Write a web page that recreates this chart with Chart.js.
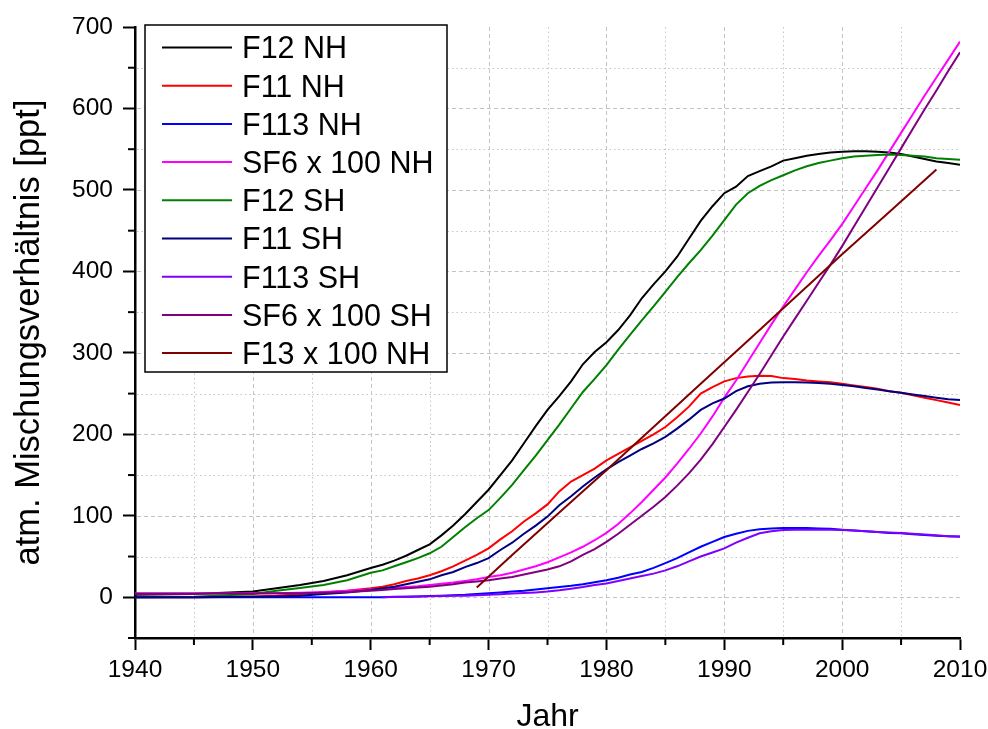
<!DOCTYPE html>
<html lang="de">
<head>
<meta charset="UTF-8">
<title>atm. Mischungsverhältnis</title>
<script src="https://cdn.jsdelivr.net/npm/chart.js"></script>
<style>
  html, body { margin: 0; padding: 0; background: #fff; }
  #wrap { width: 988px; height: 729px; }
</style>
</head>
<body>
<div id="wrap"><canvas id="chart" width="988" height="729"></canvas></div>
<script>
// years shared by most series (1940..1958 sparse, then yearly)
const years = [1940, 1945, 1950, 1952, 1954, 1956, 1958,
  1960, 1961, 1962, 1963, 1964, 1965, 1966, 1967, 1968, 1969,
  1970, 1971, 1972, 1973, 1974, 1975, 1976, 1977, 1978, 1979,
  1980, 1981, 1982, 1983, 1984, 1985, 1986, 1987, 1988, 1989,
  1990, 1991, 1992, 1993, 1994, 1995, 1996, 1997, 1998, 1999,
  2000, 2001, 2002, 2003, 2004, 2005, 2006, 2007, 2008, 2009, 2010];

const f12Nh = [3, 4, 7, 11, 15, 20, 27,
  36, 40, 45, 51, 58, 65, 76, 88, 102, 117,
  132, 150, 168, 189, 210, 230, 247, 265, 286, 301,
  313, 328, 346, 367, 384, 400, 418, 440, 462, 480,
  496, 504, 517, 523, 529, 536, 539, 542, 544, 546,
  547, 547.5, 547.5, 547, 546, 544, 541, 538, 535, 533, 531];

const f11Nh = [0, 0, 1, 2, 4, 6, 8,
  11, 13, 16, 20, 23, 27, 32, 38, 45, 52,
  60, 71, 81, 93, 103, 114, 130, 142, 150, 158,
  168, 176, 184, 192, 200, 209, 221, 234, 250, 258,
  265, 269, 271, 272, 271.5, 269, 268, 266, 265, 264,
  262, 260, 258, 256, 253, 251, 248, 245, 242, 239, 236];

const f113Nh = [0, 0, 0, 0, 0, 0, 0,
  0, 0, 0.5, 0.5, 1, 1.5, 2, 2.5, 3, 4,
  5, 6, 7, 8, 9.5, 11, 12.5, 14, 16, 18.5,
  21, 24, 28, 31, 36, 42, 48, 55, 62, 68,
  74, 78, 81.5, 83.5, 84.5, 85, 85, 85, 84.5, 84,
  83, 82, 81, 80, 79, 78.5, 77.5, 76.5, 75.5, 75, 74.5];

const sf6Nh = [4.5, 4.5, 5, 5, 5.5, 6.5, 8,
  9.5, 10.5, 11.5, 12.5, 13.5, 15, 16.5, 18, 20, 22,
  25, 27, 30, 34, 38, 43, 49, 55, 62, 70,
  79, 90, 103, 117, 132, 147, 164, 182, 201, 222,
  245, 266, 289, 312, 335, 357, 378, 399, 419, 438,
  458, 480, 502, 524, 547, 570, 593, 616, 638, 660, 682];

const f12Sh = [0, 0.5, 4, 8, 11.5, 15, 21,
  30, 33, 38, 43, 48, 54, 62, 74, 86, 97,
  107, 122, 138, 156, 174, 193, 212, 232, 252, 268,
  285, 304, 322, 340, 357, 375, 393, 410, 426, 444,
  463, 482, 496, 505, 512, 518, 524, 529, 533, 536,
  539, 541, 542, 543, 543.5, 543, 542, 541, 539, 538, 537];

const f11Sh = [0, 0, 0.5, 1, 2, 4, 6,
  9, 11, 13, 16, 19, 22, 27, 31, 37, 42,
  48, 58, 67, 78, 88, 99, 113, 124, 136, 147,
  157, 166, 174, 182, 189, 197, 207, 218, 230, 238,
  244, 253, 259, 262, 263.5, 264, 264, 263.5, 263, 262,
  260.5, 259, 257, 255, 253, 251, 249, 247, 245, 243, 242];

const f113Sh = [null, null, null, null, null, null, null,
  null, 0, 0.3, 0.6, 1, 1.2, 1.5, 1.8, 2, 2.5,
  3, 3.7, 4.5, 5.2, 6, 7, 8.5, 10.5, 12.5, 15,
  17, 20, 23, 26, 29, 33, 38, 44, 50, 55,
  60, 67, 73, 78.5, 81, 82.5, 83, 83, 83, 82.8,
  82.6, 82, 81, 80, 79.5, 79, 78, 77, 76, 75, 74.4];

const sf6Sh = [4.5, 4.5, 4.5, 5, 5, 5.5, 6.5,
  8, 9, 10, 11, 12, 13, 14.5, 16, 18, 19.5,
  21, 23, 25, 28, 31, 34, 38, 44, 52, 59,
  68, 78, 89, 100, 111, 123, 137, 152, 169, 188,
  209, 230, 252, 274, 297, 320, 342, 364, 386, 408,
  431, 455, 479, 503, 527, 551, 575, 599, 622, 646, 669];

// F13 is only measured from 1969 to 2008
const f13Years = [1969, 1972, 1976, 1980, 1984, 1988, 1992, 1996, 2000, 2004, 2008];
const f13Nh = [12, 52, 104, 156, 209, 262, 315, 368, 421, 473, 525];

const labels = ['F12 NH', 'F11 NH', 'F113 NH', 'SF6 x 100 NH', 'F12 SH',
  'F11 SH', 'F113 SH', 'SF6 x 100 SH', 'F13 x 100 NH'];
const colors = ['#000000', '#ff0000', '#0000ff', '#ff00ff', '#008000',
  '#000080', '#8000ff', '#800080', '#800000'];

const xTicks = [1940, 1950, 1960, 1970, 1980, 1990, 2000, 2010];
const yTicks = [0, 100, 200, 300, 400, 500, 600, 700];

const FONT = 'Arial, "Liberation Sans", sans-serif';

function zip(xs, ys) {
  return xs.map((x, i) => ({ x: x, y: ys[i] })).filter(p => p.y !== null);
}

const seriesData = [
  zip(years, f12Nh), zip(years, f11Nh), zip(years, f113Nh), zip(years, sf6Nh),
  zip(years, f12Sh), zip(years, f11Sh), zip(years, f113Sh), zip(years, sf6Sh),
  zip(f13Years, f13Nh)
];

// dotted / dashed grid and the minor ticks
const gridPlugin = {
  id: 'gridLines',
  beforeDatasetsDraw(chart) {
    const { ctx, chartArea: a, scales: { x, y } } = chart;
    ctx.save();
    ctx.lineWidth = 1;
    ctx.strokeStyle = '#c4c4c4';
    for (let yr = 1945; yr < 2010; yr += 5) {
      const px = Math.round(x.getPixelForValue(yr)) + 0.5;
      ctx.setLineDash(yr % 10 === 0 ? [4, 3] : [1.5, 3]);
      ctx.beginPath();
      ctx.moveTo(px, a.top);
      ctx.lineTo(px, a.bottom - 2);
      ctx.stroke();
    }
    for (let v = 0; v < 700; v += 50) {
      const py = Math.round(y.getPixelForValue(v)) + 0.5;
      ctx.setLineDash(v % 100 === 0 ? [4, 3] : [1.5, 3]);
      ctx.beginPath();
      ctx.moveTo(a.left + 2, py);
      ctx.lineTo(a.right, py);
      ctx.stroke();
    }
    ctx.restore();
  },
  afterDraw(chart) {
    const { ctx, chartArea: a, scales: { x, y } } = chart;
    ctx.save();
    ctx.strokeStyle = '#000';
    ctx.lineWidth = 2;
    for (let yr = 1945; yr < 2010; yr += 10) {
      const px = x.getPixelForValue(yr);
      ctx.beginPath();
      ctx.moveTo(px, a.bottom);
      ctx.lineTo(px, a.bottom + 7);
      ctx.stroke();
    }
    for (let v = -50; v < 700; v += 100) {
      const py = y.getPixelForValue(v);
      ctx.beginPath();
      ctx.moveTo(a.left, py);
      ctx.lineTo(a.left - 7, py);
      ctx.stroke();
    }
    ctx.restore();
  }
};

const legendPlugin = {
  id: 'boxLegend',
  afterDatasetsDraw(chart) {
    const ctx = chart.ctx;
    ctx.save();
    ctx.fillStyle = '#fff';
    ctx.fillRect(145, 25, 302, 347);
    ctx.lineWidth = 1.5;
    ctx.strokeStyle = '#000';
    ctx.strokeRect(145, 25, 302, 347);
    ctx.font = '30.5px ' + FONT;
    ctx.textBaseline = 'alphabetic';
    chart.data.datasets.forEach((ds, i) => {
      const ly = 47.5 + i * 38.2;
      ctx.strokeStyle = ds.borderColor;
      ctx.lineWidth = 2;
      ctx.beginPath();
      ctx.moveTo(162, ly);
      ctx.lineTo(232, ly);
      ctx.stroke();
      ctx.fillStyle = '#000';
      ctx.fillText(ds.label, 242, ly + 10.9);
    });
    ctx.restore();
  }
};

new Chart(document.getElementById('chart').getContext('2d'), {
  type: 'line',
  data: {
    datasets: labels.map((lab, i) => ({
      label: lab,
      data: seriesData[i],
      borderColor: colors[i],
      backgroundColor: colors[i],
      borderWidth: 2,
      pointRadius: 0,
      fill: false,
      tension: 0,
      order: labels.length - i
    }))
  },
  options: {
    responsive: false,
    animation: false,
    devicePixelRatio: 1,
    layout: { padding: { top: 27, right: 28, left: 0, bottom: 0 } },
    plugins: { legend: { display: false }, tooltip: { enabled: false } },
    scales: {
      x: {
        type: 'linear',
        min: 1940,
        max: 2010,
        afterBuildTicks: s => { s.ticks = xTicks.map(v => ({ value: v })); },
        afterFit: s => { s.height = 91; s.paddingLeft = 0; s.paddingRight = 0; },
        ticks: {
          color: '#000',
          font: { size: 24.5, family: FONT },
          padding: 6,
          maxRotation: 0,
          callback: v => String(v)
        },
        grid: { drawOnChartArea: false, drawTicks: true, tickLength: 12, tickWidth: 2, tickColor: '#000' },
        border: { color: '#000', width: 2.5 },
        title: {
          display: true,
          text: 'Jahr',
          color: '#000',
          font: { size: 32, family: FONT, lineHeight: 0.75 },
          padding: { top: 0, bottom: 0 }
        }
      },
      y: {
        type: 'linear',
        min: -50,
        max: 700,
        afterBuildTicks: s => { s.ticks = yTicks.map(v => ({ value: v })); },
        afterFit: s => { s.width = 135; s.paddingTop = 0; s.paddingBottom = 0; },
        ticks: {
          color: '#000',
          font: { size: 24.5, family: FONT },
          padding: 10,
          callback: v => String(v)
        },
        grid: { drawOnChartArea: false, drawTicks: true, tickLength: 12, tickWidth: 2, tickColor: '#000' },
        border: { color: '#000', width: 2.5 },
        title: {
          display: true,
          text: 'atm. Mischungsverhältnis [ppt]',
          color: '#000',
          font: { size: 34.5, family: FONT, lineHeight: 1.2 },
          padding: { top: 9, bottom: 0 }
        }
      }
    }
  },
  plugins: [gridPlugin, legendPlugin]
});
</script>
</body>
</html>
